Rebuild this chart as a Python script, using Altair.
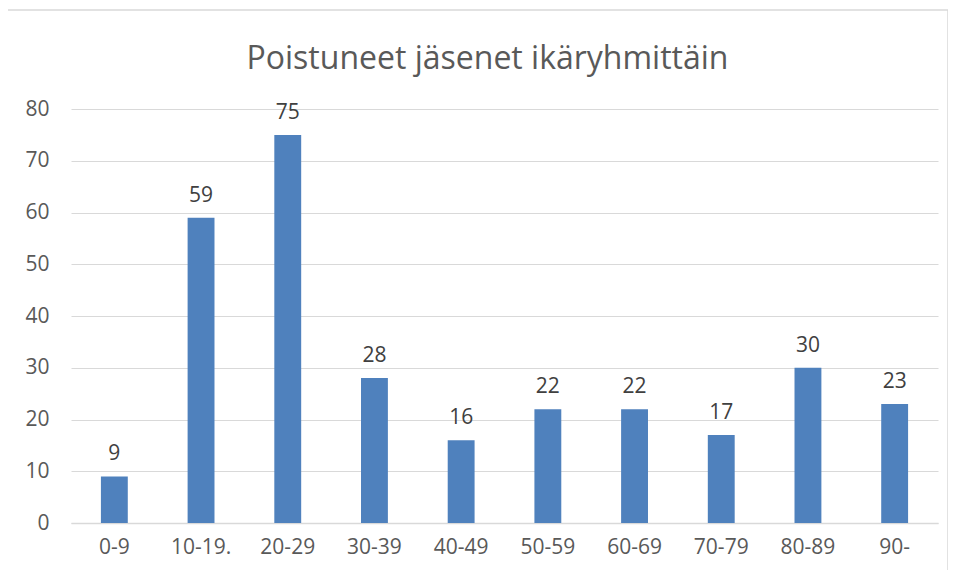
import altair as alt
import pandas as pd

categories = ["0-9", "10-19.", "20-29", "30-39", "40-49", "50-59", "60-69", "70-79", "80-89", "90-"]
values = [9, 59, 75, 28, 16, 22, 22, 17, 30, 23]
y_ticks = [0, 10, 20, 30, 40, 50, 60, 70, 80]
title_text = "Poistuneet jäsenet ikäryhmittäin"

df = pd.DataFrame({"cat": categories, "val": values})
FONT = "Open Sans"

base = alt.Chart(df)

border = alt.Chart(pd.DataFrame({"d": [0]})).mark_rect(
    filled=False, stroke="#d9d9d9", strokeWidth=1.5
).encode(
    x=alt.value(-64), x2=alt.value(877), y=alt.value(-99), y2=alt.value(480)
)

bars = base.mark_bar(color="#4F81BD").encode(
    x=alt.X("cat:N", sort=categories, title=None,
            scale=alt.Scale(paddingInner=0.69, paddingOuter=0.345),
            axis=alt.Axis(labelAngle=0, labelPadding=13, ticks=False,
                          domainColor="#d9d9d9", domainWidth=1.5)),
    y=alt.Y("val:Q", title=None,
            scale=alt.Scale(domain=[0, 80], nice=False),
            axis=alt.Axis(values=y_ticks, labelPadding=22, ticks=False, domain=False,
                          gridColor="#d9d9d9", gridWidth=1.2)),
)

labels = base.mark_text(baseline="bottom", dy=-12, font=FONT, fontSize=21, color="#404040").encode(
    x=alt.X("cat:N", sort=categories),
    y=alt.Y("val:Q"),
    text="val:Q",
)

chart = alt.layer(border, bars, labels).properties(
    width=867, height=414,
    autosize=alt.AutoSizeParams(type="none"),
    padding={"left": 63, "top": 101, "right": 10, "bottom": 47},
    title=alt.TitleParams(title_text, font=FONT, fontSize=32, fontWeight="normal",
                          color="#595959", anchor="middle", offset=-67, dx=-17),
).configure_view(stroke=None).configure_axis(
    labelFont=FONT, labelFontSize=21, labelColor="#595959"
)

chart.save("out.html", embed_options={"renderer": "svg", "actions": False})
